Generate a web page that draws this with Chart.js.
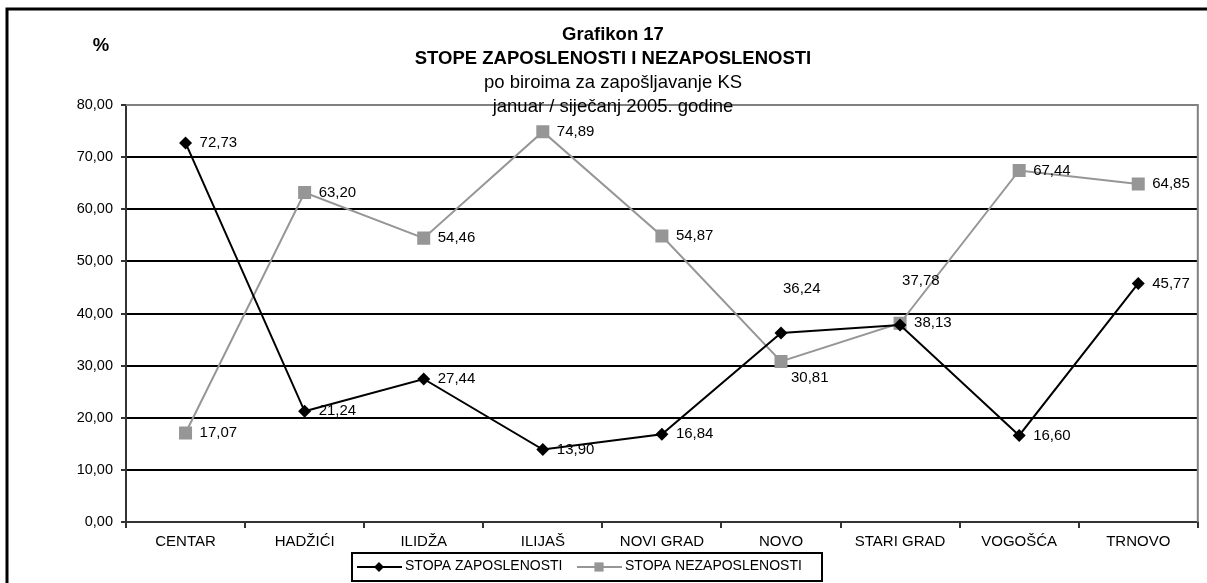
<!DOCTYPE html>
<html>
<head>
<meta charset="utf-8">
<script src="https://cdn.jsdelivr.net/npm/chart.js@4/dist/chart.umd.min.js"></script>
<style>
  body { margin: 0; background: #fff; }
  canvas { display: block; }
</style>
</head>
<body>
<canvas id="myChart" width="1207" height="583"></canvas>
<script>

// podaci sa grafikona
const biroi = ['CENTAR', 'HADŽIĆI', 'ILIDŽA', 'ILIJAŠ', 'NOVI GRAD', ['NOVO', 'SARAJEVO'], 'STARI GRAD', 'VOGOŠĆA', 'TRNOVO'];
const stopaZaposlenosti = [72.73, 21.24, 27.44, 13.90, 16.84, 36.24, 37.78, 16.60, 45.77];
const stopaNezaposlenosti = [17.07, 63.20, 54.46, 74.89, 54.87, 30.81, 38.13, 67.44, 64.85];
const yTicks = [0, 10, 20, 30, 40, 50, 60, 70, 80];

const naslov = ['Grafikon 17', 'STOPE ZAPOSLENOSTI I NEZAPOSLENOSTI'];
const podnaslov = ['po biroima za zapošljavanje KS', 'januar / siječanj 2005. godine'];

const FONT = 'Arial, "Liberation Sans", sans-serif';

function fmt(v){
    return v.toFixed(2).replace('.', ',');
}

// okvir, naslov, oznake vrijednosti i legenda
const crtez = {
    id: 'crtez',
    beforeDraw(chart){
        const c = chart.ctx;
        c.save();
        c.fillStyle = '#fff';
        c.fillRect(0, 0, chart.width, chart.height);
        c.strokeStyle = '#000';
        c.lineWidth = 3;
        c.strokeRect(7, 9, chart.width + 20, chart.height + 20);
        c.restore();
    },
    afterDatasetsDraw(chart){
        const c = chart.ctx;
        const a = chart.chartArea;
        c.save();
        // siva ivica gore i desno
        c.strokeStyle = '#808080';
        c.lineWidth = 2;
        c.beginPath();
        c.moveTo(a.left, a.top);
        c.lineTo(a.right, a.top);
        c.lineTo(a.right, a.bottom);
        c.stroke();

        c.fillStyle = '#000';
        c.font = '15px ' + FONT;
        c.textAlign = 'left';
        c.textBaseline = 'middle';
        chart.data.datasets.forEach((ds, i) => {
            const meta = chart.getDatasetMeta(i);
            meta.data.forEach((pt, j) => {
                const pos = ds.labelPos[j];
                let x = pt.x + 14, y = pt.y;
                if (pos === 'up') { x = pt.x + 2; y = pt.y - 44; }
                if (pos === 'down') { x = pt.x + 10; y = pt.y + 16; }
                c.fillText(fmt(ds.data[j]), x, y);
            });
        });

        // naslov
        c.textAlign = 'center';
        c.font = 'bold 18.5px ' + FONT;
        c.fillText(naslov[0], 613, 35);
        c.fillText(naslov[1], 613, 59);
        c.font = '18.5px ' + FONT;
        c.fillText(podnaslov[0], 613, 83);
        c.fillText(podnaslov[1], 613, 107);
        c.font = 'bold 18.5px ' + FONT;
        c.fillText('%', 101, 46);
        c.restore();
    },
    afterDraw(chart){
        const c = chart.ctx;
        c.save();
        c.fillStyle = '#fff';
        c.fillRect(352, 553, 470, 28);
        c.strokeStyle = '#000';
        c.lineWidth = 2;
        c.strokeRect(352, 553, 470, 28);
        c.font = '14px ' + FONT;
        c.textBaseline = 'middle';
        c.textAlign = 'left';
        const starts = [357, 577];
        chart.data.datasets.forEach((ds, i) => {
            const x0 = starts[i], y0 = 567;
            c.strokeStyle = ds.borderColor;
            c.lineWidth = 2;
            c.beginPath();
            c.moveTo(x0, y0);
            c.lineTo(x0 + 45, y0);
            c.stroke();
            c.fillStyle = ds.pointBackgroundColor;
            Chart.helpers.drawPoint(c, {
                pointStyle: ds.pointStyle,
                radius: ds.pointStyle === 'rect' ? 6.5 : 5,
                borderWidth: 0
            }, x0 + 22, y0);
            c.fillStyle = '#000';
            c.fillText(ds.label, x0 + 48, y0 - 1);
        });
        c.restore();
    }
};

function loadChart(){
    const ctx = document.getElementById('myChart');

    new Chart(ctx, {
        type: 'line',
        data: {
            labels: biroi,
            datasets: [{
                label: 'STOPA ZAPOSLENOSTI',
                data: stopaZaposlenosti,
                borderColor: '#000',
                borderWidth: 2,
                pointStyle: 'rectRot',
                pointRadius: 6.5,
                pointBackgroundColor: '#000',
                pointBorderWidth: 0,
                tension: 0,
                labelPos: ['r', 'r', 'r', 'r', 'r', 'up', 'up', 'r', 'r']
            }, {
                label: 'STOPA NEZAPOSLENOSTI',
                data: stopaNezaposlenosti,
                borderColor: '#969696',
                borderWidth: 2,
                pointStyle: 'rect',
                pointRadius: 9.2,
                pointBackgroundColor: '#969696',
                pointBorderWidth: 0,
                tension: 0,
                labelPos: ['r', 'r', 'r', 'r', 'r', 'down', 'r', 'r', 'r']
            }]
        },
        options: {
            responsive: false,
            animation: false,
            layout: {
                padding: { top: 105, right: 1, left: 0, bottom: 0 }
            },
            scales: {
                x: {
                    offset: true,
                    grid: {
                        offset: true,
                        drawOnChartArea: false,
                        drawTicks: true,
                        tickLength: 6,
                        color: '#333',
                        lineWidth: 2
                    },
                    border: { color: '#333', width: 2 },
                    ticks: {
                        color: '#000',
                        font: { size: 15, family: FONT },
                        padding: 5,
                        maxRotation: 0,
                        autoSkip: false
                    },
                    afterFit(scale){ scale.height = 61; }
                },
                y: {
                    min: 0,
                    max: 80,
                    afterBuildTicks(scale){
                        scale.ticks = yTicks.map(v => ({ value: v }));
                    },
                    grid: {
                        color: (c) => c.tick && c.tick.value === 80 ? '#808080' : '#000',
                        lineWidth: 2,
                        tickLength: 5,
                        tickColor: '#333'
                    },
                    border: { color: '#333', width: 2 },
                    ticks: {
                        color: '#000',
                        font: { size: 14.5, family: FONT },
                        padding: 8,
                        callback: (v) => fmt(v)
                    },
                    afterFit(scale){ scale.width = 126; }
                }
            },
            plugins: {
                legend: { display: false },
                title: { display: false },
                tooltip: { enabled: false }
            }
        },
        plugins: [crtez]
    });
}

loadChart();
</script>
</body>
</html>
